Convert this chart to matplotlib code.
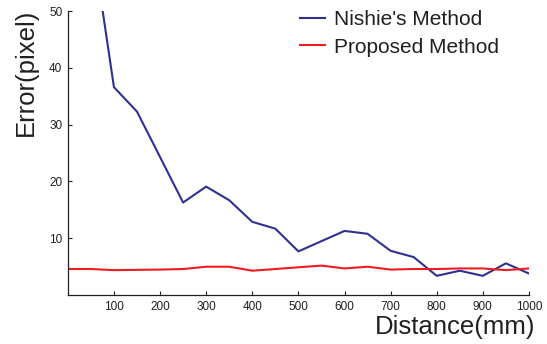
import matplotlib
matplotlib.use("Agg")
import matplotlib.pyplot as plt

# error vs. distance for the two methods
distance_nishie = [50, 100, 150, 200, 250, 300, 350, 400, 450, 500,
                   550, 600, 650, 700, 750, 800, 850, 900, 950, 1000]
error_nishie = [64.0, 36.6, 32.3, 24.3, 16.3, 19.1, 16.7, 12.9, 11.7, 7.7,
                9.5, 11.3, 10.8, 7.8, 6.7, 3.4, 4.3, 3.4, 5.6, 3.8]

distance_proposed = [0, 50, 100, 150, 200, 250, 300, 350, 400, 450, 500,
                     550, 600, 650, 700, 750, 800, 850, 900, 950, 1000]
error_proposed = [4.6, 4.6, 4.4, 4.45, 4.5, 4.6, 5.0, 5.0, 4.3, 4.6, 4.9,
                  5.2, 4.7, 5.0, 4.5, 4.6, 4.6, 4.7, 4.7, 4.4, 4.7]

x_ticks = [100, 200, 300, 400, 500, 600, 700, 800, 900, 1000]
y_ticks = [10, 20, 30, 40, 50]

BLUE = "#2E3192"
RED = "#ED1C24"
TEXT = "#231F20"

plt.rcParams["font.family"] = ["Liberation Sans", "DejaVu Sans"]

fig = plt.figure(figsize=(5.47, 3.44), dpi=100)
ax = fig.add_axes([0.124, 0.142, 0.843, 0.826])

ax.plot(distance_nishie, error_nishie, color=BLUE, linewidth=1.5,
        label="Nishie's Method")
ax.plot(distance_proposed, error_proposed, color=RED, linewidth=1.5,
        label="Proposed Method")

ax.set_xlim(0, 1000)
ax.set_ylim(0, 50)
ax.set_xticks(x_ticks)
ax.set_yticks(y_ticks)
ax.tick_params(direction="in", length=3, width=0.8, labelsize=8.5,
               colors=TEXT, pad=4)
for side in ("top", "right"):
    ax.spines[side].set_visible(False)
for side in ("left", "bottom"):
    ax.spines[side].set_color(TEXT)
    ax.spines[side].set_linewidth(0.9)

fig.text(0.978, 0.048, "Distance(mm)", fontsize=18.5, color=TEXT,
         ha="right", va="center")
fig.text(0.048, 0.79, "Error(pixel)", fontsize=18.5, color=TEXT,
         rotation=90, ha="center", va="center")

ax.legend(loc="upper left", bbox_to_anchor=(0.541, 0.983),
          bbox_transform=fig.transFigure, frameon=False, fontsize=15,
          handlelength=1.2, handletextpad=0.45, labelspacing=0.42,
          borderaxespad=0.0, borderpad=0.2, labelcolor=TEXT)

fig.savefig("out.png", dpi=100)
